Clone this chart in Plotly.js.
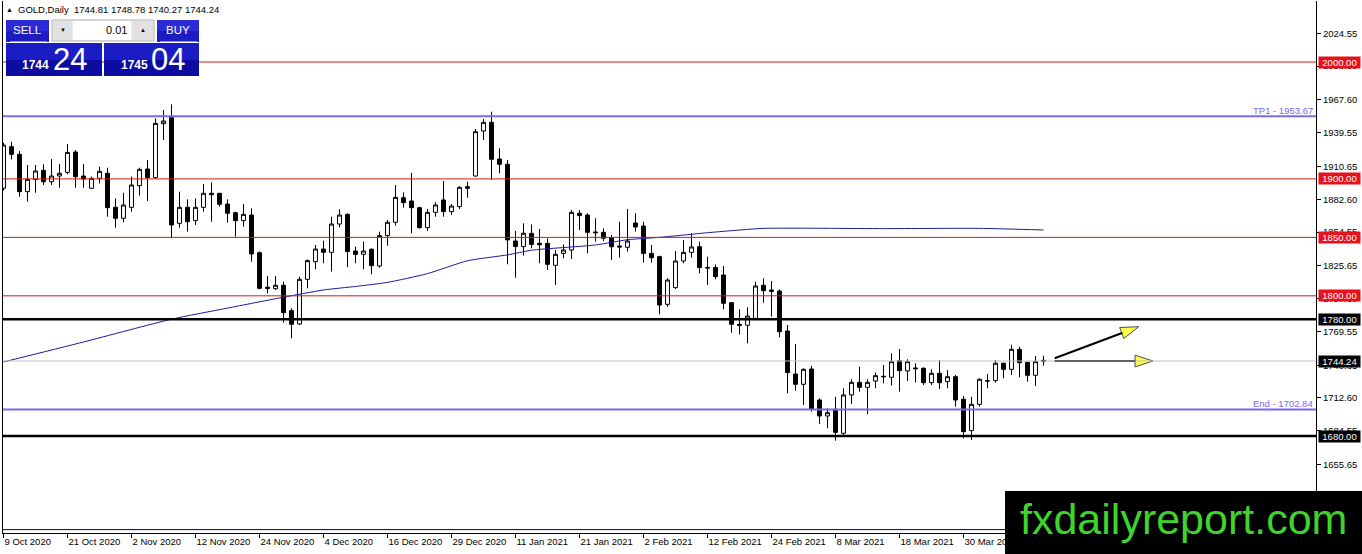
<!DOCTYPE html>
<html>
<head>
<meta charset="utf-8">
<script src="https://cdn.plot.ly/plotly-3.0.1.min.js"></script>
<style>html,body{margin:0;padding:0;background:#fff;}#chart{width:1362px;height:554px;}</style>
</head>
<body>
<div id="chart"></div>
<script>
// ---------- DATA ----------
const openP = [1892.0,1927.6,1921.0,1889.1,1899.6,1907.3,1897.6,1902.5,1905.6,1923.0,
1902.5,1892.0,1900.5,1904.8,1875.7,1866.3,1875.7,1894.2,1908.5,1901.1,
1947.3,1952.4,1862.0,1875.7,1864.3,1875.7,1887.7,1887.7,1878.5,1871.1,
1864.3,1869.1,1836.9,1807.3,1806.1,1809.0,1787.3,1775.9,1814.1,1829.2,
1840.0,1837.2,1861.4,1869.7,1838.3,1835.5,1839.8,1825.5,1851.5,1862.9,
1883.9,1881.1,1875.4,1858.3,1871.4,1882.0,1872.0,1876.3,1893.4,1902.5,
1941.0,1948.4,1917.0,1912.5,1846.9,1842.1,1853.4,1844.9,1844.9,1826.1,
1836.3,1839.2,1870.6,1869.1,1854.6,1854.3,1849.7,1842.6,1841.5,1862.3,
1859.7,1836.3,1833.5,1792.7,1807.0,1829.8,1837.2,1842.0,1824.3,1824.3,
1817.8,1794.1,1775.6,1774.8,1780.7,1809.0,1805.0,1804.1,1769.9,1733.1,
1724.3,1737.4,1710.9,1697.2,1702.9,1682.4,1715.2,1726.0,1721.7,1727.1,
1730.6,1730.3,1744.5,1735.7,1738.3,1738.0,1725.7,1733.7,1726.6,1730.8,
1711.5,1684.7,1707.2,1727.4,1727.4,1742.3,1737.1,1754.2,1743.1,1732.0,
1744.81];
const highP = [1931.0,1931.8,1923.9,1911.9,1911.9,1912.5,1917.0,1912.7,1929.9,1924.7,
1912.7,1902.0,1910.5,1909.6,1883.4,1888.2,1901.9,1909.6,1916.2,1951.8,
1958.9,1963.8,1889.1,1882.5,1883.4,1895.6,1897.1,1888.0,1882.5,1872.0,
1878.5,1874.8,1838.0,1816.9,1816.9,1812.1,1789.3,1816.4,1831.2,1843.5,
1847.2,1867.7,1874.0,1870.5,1842.1,1846.3,1840.6,1854.9,1864.9,1894.8,
1888.5,1905.3,1876.2,1874.3,1880.0,1898.2,1878.5,1893.9,1897.6,1942.7,
1951.2,1957.5,1926.2,1916.2,1855.5,1862.0,1861.1,1857.1,1849.2,1839.2,
1844.0,1873.4,1873.4,1870.6,1866.3,1857.7,1852.0,1863.4,1874.3,1870.6,
1863.4,1843.5,1834.3,1815.0,1838.3,1847.7,1853.4,1846.3,1833.5,1826.9,
1825.5,1794.5,1788.4,1790.1,1812.1,1815.0,1812.7,1805.5,1775.0,1758.8,
1738.0,1740.0,1712.3,1703.8,1713.7,1720.9,1728.6,1739.4,1728.6,1734.3,
1740.8,1750.8,1754.5,1745.7,1742.3,1738.8,1737.1,1745.1,1736.5,1732.3,
1714.3,1713.7,1729.4,1733.1,1745.1,1742.8,1758.0,1756.5,1743.7,1748.5,
1748.78];
const lowP = [1890.0,1916.7,1884.8,1880.5,1888.2,1894.8,1894.8,1892.5,1904.0,1892.5,
1892.5,1891.4,1896.2,1867.7,1858.3,1862.9,1872.0,1885.7,1881.1,1900.0,
1933.3,1849.2,1858.3,1854.9,1860.6,1872.0,1863.4,1876.3,1862.6,1850.6,
1859.2,1829.2,1805.5,1802.1,1805.0,1777.0,1763.6,1775.0,1806.4,1822.6,
1827.8,1820.7,1858.6,1824.4,1827.8,1822.7,1818.4,1824.1,1842.9,1860.0,
1875.4,1853.5,1857.5,1855.5,1867.7,1867.7,1869.1,1874.3,1883.9,1901.9,
1933.3,1899.1,1904.8,1827.0,1815.5,1834.4,1840.6,1827.8,1822.1,1809.3,
1832.1,1831.5,1856.3,1836.3,1846.3,1846.9,1830.6,1832.6,1837.8,1854.9,
1828.4,1828.4,1784.2,1790.7,1805.8,1827.8,1832.6,1819.2,1809.3,1814.1,
1788.4,1768.5,1767.1,1759.3,1779.3,1794.1,1782.2,1764.5,1716.6,1718.9,
1706.6,1700.9,1690.4,1686.7,1676.1,1681.0,1707.5,1718.0,1698.6,1720.9,
1725.1,1723.2,1718.0,1727.1,1726.0,1723.7,1723.7,1720.3,1720.9,1705.2,
1678.1,1676.7,1705.2,1720.9,1725.7,1729.4,1732.3,1730.3,1726.6,1722.9,
1740.27];
const closeP = [1929.0,1921.0,1889.1,1899.6,1906.8,1897.6,1902.5,1904.8,1922.7,1901.9,
1899.9,1900.5,1906.5,1875.4,1866.3,1877.7,1894.8,1908.2,1901.1,1947.5,
1949.5,1860.6,1875.7,1863.4,1875.7,1887.7,1886.5,1878.3,1870.6,1864.3,
1869.7,1835.8,1806.4,1806.4,1809.0,1785.6,1775.6,1814.1,1830.1,1840.0,
1837.2,1861.4,1869.1,1837.8,1835.5,1838.3,1825.8,1851.5,1862.9,1884.2,
1879.7,1875.4,1858.3,1871.4,1877.7,1872.0,1876.8,1892.8,1892.0,1940.4,
1948.4,1916.8,1912.5,1847.8,1842.1,1853.5,1844.0,1843.7,1826.9,1835.5,
1839.2,1871.4,1868.6,1854.3,1854.0,1849.2,1842.0,1841.8,1846.9,1858.9,
1836.3,1832.6,1792.1,1813.5,1829.8,1837.2,1841.8,1824.1,1823.8,1816.4,
1793.6,1775.6,1774.8,1782.7,1808.4,1804.4,1803.8,1769.3,1734.3,1724.3,
1737.1,1702.9,1697.2,1700.0,1683.2,1715.2,1726.0,1721.7,1726.0,1731.7,
1731.1,1743.7,1736.0,1743.7,1737.7,1725.7,1733.7,1725.7,1730.8,1710.9,
1683.8,1707.2,1728.6,1727.1,1742.3,1737.1,1754.2,1742.8,1732.0,1743.7,
1744.24];

// moving average line, read at a set of bar positions
const maIdx = [0,10,21,28,35,40,44,48,53,58,63,66,74,78,82,88,91,95,110,122,130];
const maVal = [1743.4,1760.5,1780.0,1789.5,1798.8,1805.0,1808.0,1811.5,1819.0,1830.0,1835.0,1839.0,1843.5,1848.0,1850.0,1854.0,1855.7,1857.7,1857.5,1857.7,1856.3];

// date axis labels (bar index -> label)
const dateTickIdx = [0,8,16,24,32,40,48,56,64,72,80,88,96,104,112,120];
const dateTickText = ['9 Oct 2020','21 Oct 2020','2 Nov 2020','12 Nov 2020','24 Nov 2020','4 Dec 2020','16 Dec 2020','29 Dec 2020','11 Jan 2021','21 Jan 2021','2 Feb 2021','12 Feb 2021','24 Feb 2021','8 Mar 2021','18 Mar 2021','30 Mar 2021'];

// price axis labels
const priceTicks = [2024.55,1996.50,1967.60,1939.55,1910.65,1882.60,1854.55,1825.65,1797.60,1769.55,1740.65,1712.60,1684.55,1655.65];

// horizontal levels
const redLevels = [2000, 1900, 1850, 1800];
const blackLevels = [1780, 1680];
const targetLevels = [1953.67, 1702.84];
const targetNames = ['TP1', 'End'];
const currentPrice = 1744.24;
const bottomLevel = 1600;

// arrows (bar index / price): start, tip
const arrowX0 = [131.4, 131.4];
const arrowY0 = [1746.6, 1744.2];
const arrowX1 = [141.9, 143.7];
const arrowY1 = [1773.6, 1744.2];

// trade panel prices
const bidBig = ['1744', '24'];
const askBig = ['1745', '04'];
const lotSize = '0.01';
const symbolName = 'GOLD,Daily';
const watermark = 'fxdailyreport.com';

// ---------- CHART ----------
const FONT = 'Liberation Sans, Arial, sans-serif';
const L = 3, R = 46, T = 1, B = 21, WIDTH = 1362, HEIGHT = 554;
const PW = WIDTH - L - R, PH = HEIGHT - T - B;
const px = x => (x - L) / PW;
const py = y => (HEIGHT - B - y) / PH;

const xs = openP.map((_, i) => i);

const traces = [
  {
    type: 'scatter', mode: 'lines', x: maIdx, y: maVal,
    line: {color: '#1a1aa0', width: 1, shape: 'spline', smoothing: 0.6}, hoverinfo: 'skip'
  },
  {
    type: 'candlestick', x: xs, open: openP, high: highP, low: lowP, close: closeP,
    increasing: {line: {color: '#000', width: 1}, fillcolor: '#ffffff'},
    decreasing: {line: {color: '#000', width: 1}, fillcolor: '#000000'},
    whiskerwidth: 0, hoverinfo: 'skip'
  }
];
for (let k = 0; k < arrowX0.length; k++) {
  traces.push({
    type: 'scatter', mode: 'lines+markers',
    x: [arrowX0[k], arrowX1[k]], y: [arrowY0[k], arrowY1[k]],
    line: {color: '#000', width: 2},
    marker: {symbol: 'arrow', angleref: 'previous', size: [0, 19], color: '#ffff00',
             line: {color: '#000', width: 1}},
    hoverinfo: 'skip'
  });
}

const shapes = [];
const annotations = [];
function hline(p, color, w) {
  shapes.push({type: 'line', xref: 'paper', x0: 0, x1: 1, yref: 'y', y0: p, y1: p,
    line: {color: color, width: w}, layer: 'above'});
}
function priceBox(p, bg) {
  annotations.push({xref: 'paper', x: 1, xanchor: 'left', xshift: 1.5, yref: 'y', y: p,
    yanchor: 'middle', text: p.toFixed(2), showarrow: false, bgcolor: bg, borderpad: 0,
    width: 41, height: 11, align: 'center', font: {family: FONT, size: 9.5, color: '#fff'}});
}
hline(bottomLevel, '#000080', 1);
hline(currentPrice, '#c0c0c0', 1);
redLevels.forEach(p => { hline(p, '#d01818', 1); priceBox(p, '#e8101a'); });
targetLevels.forEach((p, k) => {
  hline(p, '#7b68ee', 2);
  annotations.push({xref: 'paper', x: 1, xanchor: 'right', xshift: -2, yref: 'y', y: p,
    yanchor: 'bottom', yshift: -1, text: targetNames[k] + ' - ' + p.toFixed(2), showarrow: false,
    borderpad: 0, font: {family: FONT, size: 9.5, color: '#7b68ee'}});
});
blackLevels.forEach(p => { hline(p, '#000', 2.5); priceBox(p, '#000'); });
priceBox(currentPrice, '#000');

// trade panel
function rect(x0, y0, x1, y1, fill, line) {
  shapes.push({type: 'rect', xref: 'paper', yref: 'paper', x0: px(x0), x1: px(x1), y0: py(y1), y1: py(y0),
    fillcolor: fill, line: line ? {color: line, width: 1} : {width: 0}, layer: 'above'});
}
function seg(x0, y0, x1, y1, color) {
  shapes.push({type: 'line', xref: 'paper', yref: 'paper', x0: px(x0), x1: px(x1), y0: py(y0), y1: py(y1),
    line: {color: color, width: 1}, layer: 'above'});
}
function txt(x, y, t, size, color, xa, bold) {
  annotations.push({xref: 'paper', yref: 'paper', x: px(x), y: py(y), xanchor: xa || 'left', yanchor: 'middle',
    text: bold ? '<b>' + t + '</b>' : t, showarrow: false, borderpad: 0,
    font: {family: FONT, size: size, color: color}});
}
// SELL / BUY headers
rect(6, 20, 49, 31, '#2b2bd8'); rect(6, 31, 49, 42, '#1c1cc0');
rect(157, 20, 199, 31, '#2b2bd8'); rect(157, 31, 199, 42, '#1c1cc0');
seg(10, 41.5, 47, 41.5, '#8c8cf0'); seg(160, 41.5, 197, 41.5, '#8c8cf0');
txt(27.5, 30.5, 'SELL', 11.5, '#fff', 'center');
txt(178, 30.5, 'BUY', 11.5, '#fff', 'center');
// lot control
rect(52, 20, 154, 41, '#f0f0f0', '#b0b0b0');
rect(53, 21, 72, 40, '#e2e2e2');
rect(73, 21, 131, 40, '#ffffff');
rect(132, 21, 153, 40, '#e2e2e2');
txt(62.5, 30, '▼', 6, '#000', 'center');
txt(142.5, 30, '▲', 6, '#000', 'center');
txt(128, 30.5, lotSize, 11, '#000', 'right');
// big price boxes
rect(6, 43, 102, 60, '#1c1cc4'); rect(6, 60, 102, 76, '#0c0ca0');
rect(104, 43, 199, 60, '#1c1cc4'); rect(104, 60, 199, 76, '#0c0ca0');
txt(21, 65.5, bidBig[0], 12, '#fff', 'left', true);
txt(52, 59.5, bidBig[1], 31, '#fff', 'left');
txt(120, 65.5, askBig[0], 12, '#fff', 'left', true);
txt(150, 59.5, askBig[1], 31, '#fff', 'left');

// header
txt(5, 10, '▲', 7, '#000', 'left');
txt(17, 10, symbolName + '\u00a0\u00a0' + [openP, highP, lowP, closeP].map(a => a[a.length - 1].toFixed(2)).join(' '), 9.5, '#000', 'left');

// watermark
rect(1005, 491, 1362, 554, '#000000');
txt(1183, 519, watermark, 43, '#3fd42c', 'center');

const layout = {
  width: WIDTH, height: HEIGHT,
  margin: {l: L, r: R, t: T, b: B, pad: 0},
  paper_bgcolor: '#fff', plot_bgcolor: '#fff',
  showlegend: false,
  font: {family: FONT, size: 9.5, color: '#000'},
  xaxis: {
    range: [-0.0625, (PW - 0.5) / 8], showgrid: false, zeroline: false,
    showline: true, linecolor: '#000', linewidth: 1,
    ticks: 'outside', ticklen: 4, tickcolor: '#000',
    tickmode: 'array', tickvals: dateTickIdx, ticktext: dateTickText,
    ticklabelposition: 'outside right',
    tickfont: {family: FONT, size: 9.5, color: '#000'},
    rangeslider: {visible: false}, fixedrange: true
  },
  yaxis: {
    side: 'right', range: [1597.1, 2052.2], showgrid: false, zeroline: false,
    showline: true, mirror: true, linecolor: '#000', linewidth: 1,
    ticks: 'outside', ticklen: 4, tickcolor: '#000',
    tickmode: 'array', tickvals: priceTicks, ticktext: priceTicks.map(v => v.toFixed(2)),
    tickfont: {family: FONT, size: 9.5, color: '#000'}, fixedrange: true
  },
  shapes: shapes,
  annotations: annotations
};

Plotly.newPlot('chart', traces, layout, {displayModeBar: false, staticPlot: true});
</script>
</body>
</html>
